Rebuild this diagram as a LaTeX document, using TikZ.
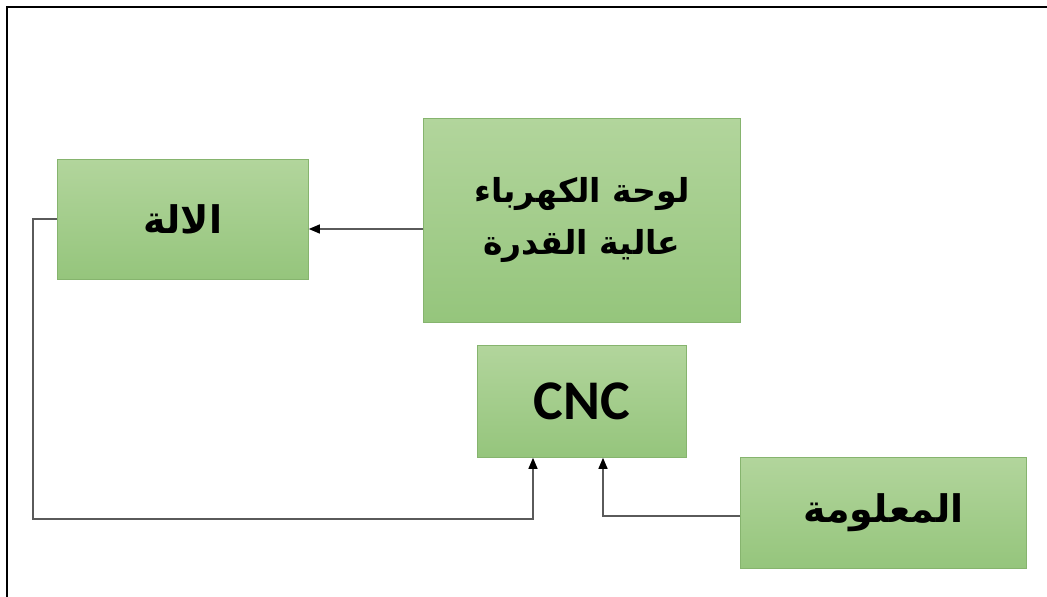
\documentclass[tikz,border=0pt]{standalone}
\usepackage{fontspec}
\newfontfamily\arabicfont[Script=Arabic]{DejaVu Sans}
\newfontfamily\cncfont{Carlito}
\TeXXeTstate=1
\usetikzlibrary{arrows.meta}
\definecolor{boxtop}{HTML}{B2D59C}
\definecolor{boxbottom}{HTML}{95C57C}
\definecolor{boxline}{HTML}{86B46E}
\definecolor{wire}{HTML}{5A5A5A}
\tikzset{
  block/.style={draw=boxline, line width=0.8pt, top color=boxtop, bottom color=boxbottom,
    anchor=north west, inner sep=0pt, align=center},
  feed/.style={draw=wire, line width=1.4pt, -{Triangle[length=11pt,width=9pt,fill=black,color=black]}},
  artext/.style={font=\arabicfont\bfseries\fontsize{38}{50}\selectfont},
  paneltext/.style={font=\arabicfont\bfseries\fontsize{33}{50}\selectfont},
}
\begin{document}
\begin{tikzpicture}[x=1pt,y=-1pt]
\useasboundingbox (0,0) rectangle (1047,597);
% frame along the top and left edges
\draw[line width=2pt] (6.5,597) -- (6.5,6.5) -- (1047,6.5);

% blocks
\node[block, minimum width=251pt, minimum height=120pt, artext] (machine) at (57,159)
  {\beginR الالة\endR};
\node[block, minimum width=317pt, minimum height=204pt, paneltext] (panel) at (423,118)
  {\beginR لوحة الكهرباء\endR\\[2pt]\beginR عالية القدرة\endR};
\node[block, minimum width=209pt, minimum height=112pt, font=\cncfont\bfseries\fontsize{56}{60}\selectfont] (cnc) at (477,345)
  {CNC};
\node[block, minimum width=286pt, minimum height=111pt, artext] (info) at (740,457)
  {\beginR المعلومة\endR};

% bend points
\coordinate (m1) at (33,219);
\coordinate (m2) at (33,519);
\coordinate (m3) at (533,519);
\coordinate (i1) at (603,516);

% connectors
\draw[feed] (panel.west |- 0,229) -- (machine.east |- 0,229);
\draw[feed] (machine.west |- m1) -- (m1) -- (m2) -- (m3) -- (m3 |- cnc.south);
\draw[feed] (info.west |- i1) -- (i1) -- (i1 |- cnc.south);
\end{tikzpicture}
\end{document}
